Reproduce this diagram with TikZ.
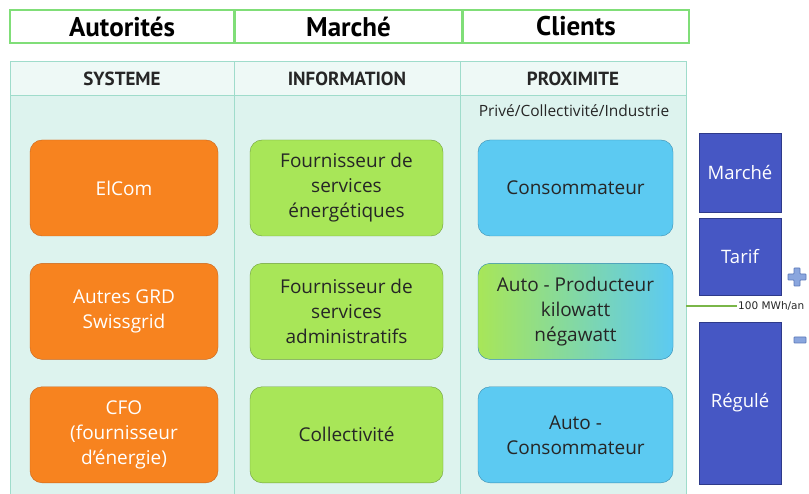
\documentclass[tikz,border=0pt]{standalone}
\usepackage{fontspec}
\setmainfont{Open Sans}
\newfontfamily\titlefont{PT Sans}
\newfontfamily\smallfont{DejaVu Sans}
\usetikzlibrary{positioning}
\definecolor{headgreen}{HTML}{80DE78}
\definecolor{tabfill}{HTML}{DDF3EE}
\definecolor{tabhead}{HTML}{EEF9F6}
\definecolor{tabline}{HTML}{9FDCCB}
\definecolor{orangeA}{HTML}{F7831F}
\definecolor{orangeD}{HTML}{C8641A}
\definecolor{greenA}{HTML}{A8E658}
\definecolor{greenD}{HTML}{6E9E3A}
\definecolor{blueA}{HTML}{5CCAF2}
\definecolor{blueD}{HTML}{3A8DB0}
\definecolor{regblue}{HTML}{4657C4}
\definecolor{regblueD}{HTML}{2E3A8A}
\definecolor{signblue}{HTML}{8AA6DE}
\definecolor{signblueD}{HTML}{5A78B8}
\definecolor{seuil}{HTML}{7AB648}
\tikzset{
  basic/.style  = {draw, rounded corners=12pt, align=center, minimum width=190pt,
    minimum height=96pt, font=\fontsize{19}{25}\selectfont},
  autorite/.style = {basic, fill=orangeA, draw=orangeD, text=white, minimum width=188pt},
  marche/.style   = {basic, fill=greenA, draw=greenD, text=black!85, minimum width=193pt},
  client/.style   = {basic, fill=blueA, draw=blueD, text=black!85, minimum width=195pt},
  regime/.style   = {draw=regblueD, fill=regblue, text=white, minimum width=82pt,
    font=\fontsize{18.5}{20}\selectfont},
  titre/.style  = {draw=headgreen, line width=1.5pt, minimum height=33pt,
    font=\titlefont\bfseries\fontsize{27}{28}\selectfont},
  colhead/.style = {font=\titlefont\bfseries\fontsize{19}{20}\selectfont, text=black!85},
  signe/.style = {fill=signblue, draw=signblueD, line width=0.6pt, rounded corners=0.6pt}
}

\begin{document}
\begin{tikzpicture}[x=1pt, y=-1pt]
    \useasboundingbox (0,0) rectangle (809,494);

% top row: the three actors
    \node[titre, minimum width=224pt] (aut) at (122,26.5) {Autorités};
    \node[titre, minimum width=226pt, right=0pt of aut] (mar) {Marché};
    \node[titre, minimum width=226pt, right=0pt of mar] (cli) {Clients};

% the table behind the boxes
    \fill[tabfill] (10,62) rectangle (686,494);
    \fill[tabhead] (10,62) rectangle (686,96);
    \draw[tabline, line width=1pt] (10,494) -- (10,62) -- (686,62) -- (686,494);
    \draw[tabline, line width=1pt] (10,96) -- (686,96);
    \draw[tabline, line width=1pt] (234,62) -- (234,494);
    \draw[tabline, line width=1pt] (460,62) -- (460,494);
    \node[colhead] (sys) at (122,79) {SYSTEME};
    \node[colhead] (inf) at (347,79) {INFORMATION};
    \node[colhead] (pro) at (573,79) {PROXIMITE};
    \node[font=\fontsize{15.5}{16}\selectfont, text=black!85] (seg) at (574,111) {Privé/Collectivité/Industrie};

% first column, relatively positioned nodes
    \node[autorite] (a1) at (124,188) {ElCom};
    \node[autorite, below=27pt of a1] (a2) {Autres GRD\\Swissgrid};
    \node[autorite, below=27pt of a2] (a3) {CFO\\(fournisseur\\d’énergie)};

% second column
    \node[marche] (m1) at (346.5,188) {Fournisseur de\\services\\énergétiques};
    \node[marche, below=27pt of m1] (m2) {Fournisseur de\\services\\administratifs};
    \node[marche, below=27pt of m2] (m3) {Collectivité};

% third column
    \node[client] (c1) at (575.5,188) {Consommateur};
    \node[client, below=27pt of c1, left color=greenA, right color=blueA] (c2)
      {Auto - Producteur\\kilowatt\\négawatt};
    \node[client, below=27pt of c2] (c3) {Auto -\\Consommateur};

% market / tariff / regulated
    \node[regime, minimum height=79pt] (r1) at (740,172.5) {Marché};
    \node[regime, minimum height=77pt, below=6pt of r1] (r2) {Tarif};
    \node[regime, minimum height=162pt, below=26pt of r2] (r3) {Régulé};
    \coordinate (s0) at (686,306);
    \coordinate (s1) at (737,306);
    \draw[seuil, line width=2pt] (s0) -- (s1);
    \node[anchor=west, inner sep=1pt, font=\smallfont\fontsize{10.5}{11}\selectfont, text=black!85]
      (lim) at (s1) {100 MWh/an};

% plus and minus signs
    \filldraw[signe] (794,268) -- (800,268) -- (800,274) -- (806,274) -- (806,280)
      -- (800,280) -- (800,286) -- (794,286) -- (794,280) -- (788,280) -- (788,274)
      -- (794,274) -- cycle;
    \filldraw[signe] (794,337) rectangle (806,343);
  \end{tikzpicture}
\end{document}
